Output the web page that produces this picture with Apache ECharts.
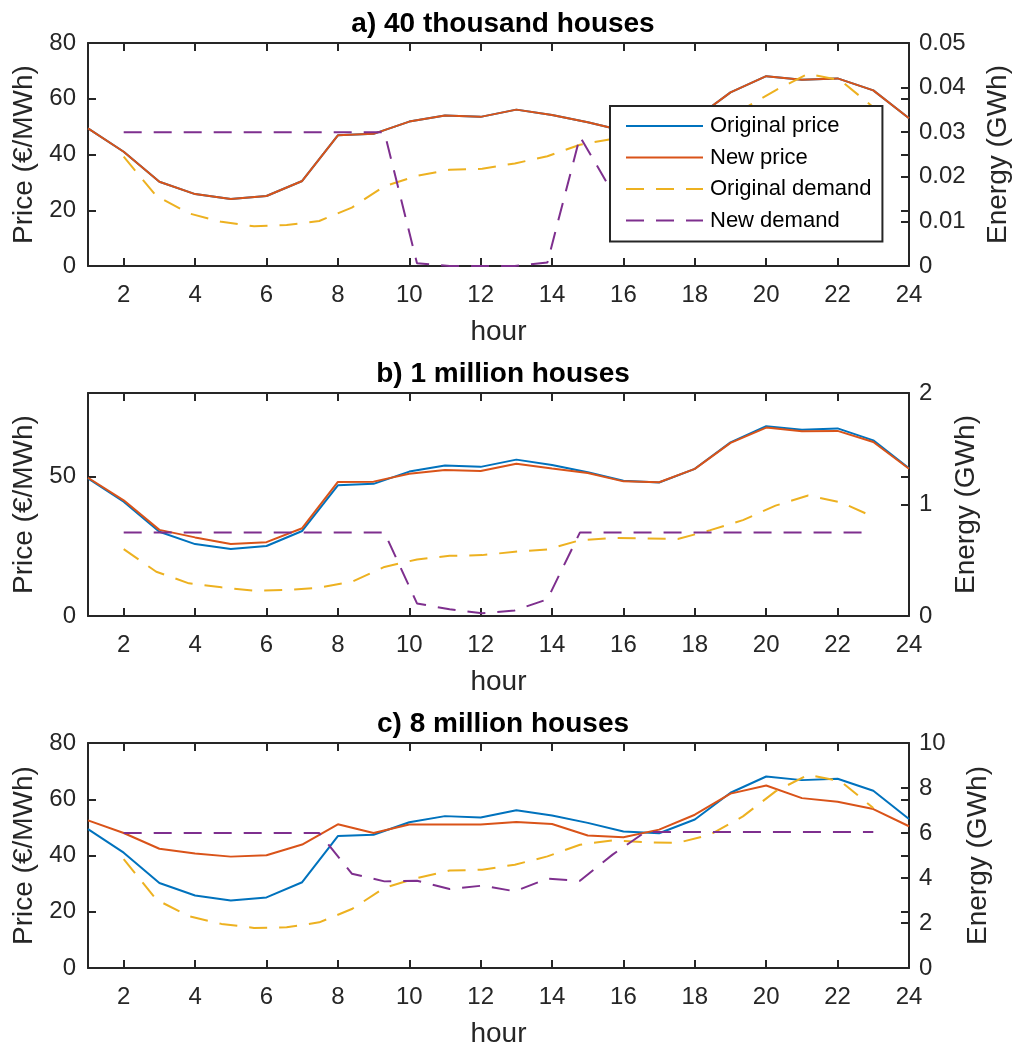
<!DOCTYPE html>
<html>
<head>
<meta charset="utf-8">
<script src="https://cdn.jsdelivr.net/npm/echarts@6/dist/echarts.min.js"></script>
<style>
  html, body { margin: 0; padding: 0; background: #ffffff; }
  #chart { width: 1016px; height: 1046px; }
</style>
</head>
<body>
<div id="chart"></div>
<script>
// ---------------- data ----------------
const hours = [1,2,3,4,5,6,7,8,9,10,11,12,13,14,15,16,17,18,19,20,21,22,23,24];
// demand samples are drawn between hour 2 and hour 23 (24 samples)
const demandHours = [2, 2.913, 3.826, 4.739, 5.652, 6.565, 7.478, 8.391, 9.304, 10.217, 11.130, 12.043,
                     12.957, 13.870, 14.783, 15.696, 16.609, 17.522, 18.435, 19.348, 20.261, 21.174, 22.087, 23];
const hourTicks = [2,4,6,8,10,12,14,16,18,20,22,24];

const panelTitles = ['a) 40 thousand houses', 'b) 1 million houses', 'c) 8 million houses'];
const seriesNames = ['Original price', 'New price', 'Original demand', 'New demand'];

const priceOriginal = [49.4, 41.0, 30.2, 25.8, 24.0, 25.1, 30.5, 46.9, 47.4, 51.8, 54.0, 53.5,
                       56.1, 54.2, 51.6, 48.5, 47.9, 52.8, 62.3, 68.1, 66.8, 67.3, 63.0, 53.0];

const priceNewA = [49.4, 41.0, 30.2, 25.8, 24.0, 25.1, 30.5, 46.9, 47.4, 51.8, 54.0, 53.5,
                   56.1, 54.2, 51.6, 48.5, 47.9, 52.8, 62.3, 68.1, 66.8, 67.3, 63.0, 53.0];
const priceNewB = [49.6, 41.5, 30.9, 28.2, 25.8, 26.5, 31.5, 48.1, 48.2, 51.0, 52.4, 52.0,
                   54.6, 52.9, 51.3, 48.3, 48.0, 52.8, 62.1, 67.6, 66.3, 66.4, 62.4, 52.8];
const priceNewC = [52.5, 48.0, 42.4, 40.7, 39.6, 40.1, 43.9, 51.1, 48.0, 51.0, 51.0, 51.0,
                   51.9, 51.2, 47.1, 46.5, 49.2, 54.5, 62.0, 64.9, 60.4, 59.1, 56.5, 50.4];

const demandOriginalA = [0.0245, 0.0157, 0.0118, 0.0099, 0.0089, 0.0092, 0.0101, 0.0131, 0.0179, 0.0202, 0.0216, 0.0218,
                         0.0230, 0.0246, 0.0272, 0.0285, 0.0279, 0.0277, 0.0302, 0.0352, 0.0394, 0.0431, 0.0416, 0.0356];
const demandOriginalB = [0.600, 0.397, 0.293, 0.257, 0.227, 0.233, 0.254, 0.307, 0.440, 0.507, 0.540, 0.546,
                         0.576, 0.597, 0.680, 0.700, 0.695, 0.690, 0.770, 0.860, 0.990, 1.080, 1.020, 0.890];
const demandOriginalC = [4.84, 3.04, 2.30, 1.96, 1.78, 1.81, 2.03, 2.62, 3.56, 4.00, 4.33, 4.37,
                         4.59, 4.96, 5.48, 5.67, 5.59, 5.56, 5.93, 6.74, 7.85, 8.59, 8.30, 7.11];

const demandNewA = [0.0300, 0.0300, 0.0300, 0.0300, 0.0300, 0.0300, 0.0300, 0.0300, 0.0300, 0.0006, 0.0000, 0.0000,
                    0.0000, 0.0008, 0.0290, 0.0165, 0.0200, 0.0250, 0.0300, 0.0300, 0.0300, 0.0300, 0.0300, 0.0300];
const demandNewB = [0.750, 0.750, 0.750, 0.750, 0.750, 0.750, 0.750, 0.750, 0.750, 0.113, 0.060, 0.024,
                    0.050, 0.150, 0.750, 0.750, 0.750, 0.750, 0.750, 0.750, 0.750, 0.750, 0.750, 0.750];
const demandNewC = [6.00, 6.00, 6.00, 6.00, 6.00, 6.00, 6.00, 4.19, 3.85, 3.88, 3.51, 3.66,
                    3.41, 3.97, 3.88, 5.04, 6.04, 6.04, 6.04, 6.04, 6.04, 6.04, 6.04, 6.04];

const priceTicksAC = [0, 20, 40, 60, 80];
const priceTicksB = [0, 50];
const energyMax = [0.05, 2, 10];
const energyInterval = [0.01, 1, 2];

// ---------------- styling ----------------
const FONT = '"Liberation Sans", Arial, Helvetica, sans-serif';
const AX = '#262626';
const COLORS = ['#0072BD', '#D95319', '#EDB120', '#7E2F8E'];
const DASH = [18, 12];

const grids = [
  { left: 88, right: 107, top: 43, height: 223, outerBoundsMode: 'none', containLabel: false },
  { left: 88, right: 107, top: 393, height: 223, outerBoundsMode: 'none', containLabel: false },
  { left: 88, right: 107, top: 743, height: 225, outerBoundsMode: 'none', containLabel: false }
];
const titleTops = [5, 355, 705];
const energyNameGap = [75, 43, 55];

const panels = [
  { pn: priceNewA, dOrig: demandOriginalA, dNew: demandNewA, priceTicks: priceTicksAC, mirror: [20, 40, 60] },
  { pn: priceNewB, dOrig: demandOriginalB, dNew: demandNewB, priceTicks: priceTicksB, mirror: [50] },
  { pn: priceNewC, dOrig: demandOriginalC, dNew: demandNewC, priceTicks: priceTicksAC, mirror: [20, 40, 60] }
];

const xAxis = [], yAxis = [], series = [], title = [];
const lineAx = { show: true, onZero: false, lineStyle: { color: AX, width: 2 } };

panels.forEach((p, i) => {
  title.push({
    text: panelTitles[i], left: 498, top: titleTops[i], textAlign: 'center',
    textStyle: { fontFamily: FONT, fontSize: 28, fontWeight: 'bold', color: '#000' }
  });
  // bottom x axis
  xAxis.push({
    type: 'value', gridIndex: i, min: 1, max: 24, position: 'bottom',
    name: 'hour', nameLocation: 'middle', nameGap: 52,
    nameTextStyle: { fontFamily: FONT, fontSize: 28, color: AX },
    axisLine: lineAx,
    axisTick: { show: true, inside: true, length: 8, customValues: hourTicks, lineStyle: { color: AX, width: 2 } },
    axisLabel: { show: true, customValues: hourTicks, margin: 17, fontFamily: FONT, fontSize: 24, color: AX },
    splitLine: { show: false }
  });
  // top x axis (box with ticks)
  xAxis.push({
    type: 'value', gridIndex: i, min: 1, max: 24, position: 'top',
    axisLine: lineAx,
    axisTick: { show: true, inside: true, length: 8, customValues: hourTicks, lineStyle: { color: AX, width: 2 } },
    axisLabel: { show: false },
    splitLine: { show: false }
  });
  // left price axis
  yAxis.push({
    type: 'value', gridIndex: i, min: 0, max: 80, position: 'left',
    name: 'Price (€/MWh)', nameLocation: 'middle', nameGap: 48, nameRotate: 90,
    nameTextStyle: { fontFamily: FONT, fontSize: 28, color: AX },
    axisLine: lineAx,
    axisTick: { show: true, inside: true, length: 8, customValues: p.priceTicks, lineStyle: { color: AX, width: 2 } },
    axisLabel: { show: true, customValues: p.priceTicks, margin: 12, fontFamily: FONT, fontSize: 24, color: AX },
    splitLine: { show: false }
  });
  // right energy axis
  yAxis.push({
    type: 'value', gridIndex: i, min: 0, max: energyMax[i], interval: energyInterval[i], position: 'right',
    name: 'Energy (GWh)', nameLocation: 'middle', nameGap: energyNameGap[i], nameRotate: 90,
    nameTextStyle: { fontFamily: FONT, fontSize: 28, color: AX },
    axisLine: lineAx,
    axisTick: { show: true, inside: true, length: 8, lineStyle: { color: AX, width: 2 } },
    axisLabel: { show: true, margin: 10, fontFamily: FONT, fontSize: 24, color: AX },
    splitLine: { show: false }
  });
  // mirrored price ticks on the right edge
  yAxis.push({
    type: 'value', gridIndex: i, min: 0, max: 80, position: 'right',
    axisLine: { show: false, onZero: false },
    axisTick: { show: true, inside: true, length: 8, customValues: p.mirror, lineStyle: { color: AX, width: 2 } },
    axisLabel: { show: false },
    splitLine: { show: false }
  });

  const xi = i * 2, yl = i * 3, yr = i * 3 + 1;
  const mk = (name, xs, ys, xIdx, yIdx, color, dashed) => ({
    name, type: 'line', xAxisIndex: xIdx, yAxisIndex: yIdx,
    data: xs.map((x, k) => [x, ys[k]]),
    symbol: 'none', smooth: false, animation: false,
    lineStyle: { color, width: 2, type: dashed ? DASH : 'solid' },
    itemStyle: { color, opacity: 0 }
  });
  series.push(mk(seriesNames[0], hours, priceOriginal, xi, yl, COLORS[0], false));
  series.push(mk(seriesNames[1], hours, p.pn, xi, yl, COLORS[1], false));
  series.push(mk(seriesNames[2], demandHours, p.dOrig, xi, yr, COLORS[2], true));
  series.push(mk(seriesNames[3], demandHours, p.dNew, xi, yr, COLORS[3], true));
});

const option = {
  backgroundColor: '#ffffff',
  animation: false,
  title,
  grid: grids,
  xAxis, yAxis, series,
  legend: {
    data: seriesNames,
    orient: 'vertical', left: 610, top: 106,
    padding: [9, 11, 10, 15],
    itemWidth: 77, itemHeight: 22, itemGap: 9.5,
    backgroundColor: '#ffffff', borderColor: AX, borderWidth: 2, borderRadius: 0,
    itemStyle: { opacity: 0, borderWidth: 0 },
    textStyle: { fontFamily: FONT, fontSize: 22, color: '#000', padding: [0, 0, 0, 2] },
    selectedMode: false,
    z: 10
  }
};

const chart = echarts.init(document.getElementById('chart'), null, { renderer: 'canvas' });
chart.setOption(option);
</script>
</body>
</html>
